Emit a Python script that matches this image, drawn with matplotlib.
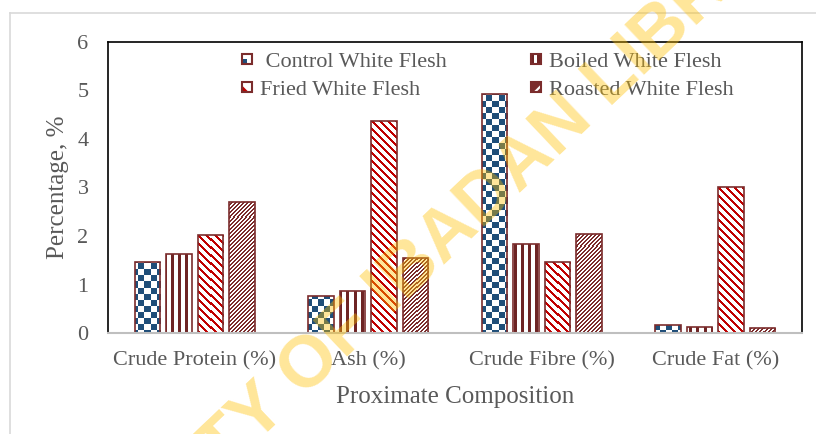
import numpy as np
import matplotlib
matplotlib.use("Agg")
import matplotlib.pyplot as plt
from matplotlib.colors import to_rgb
from matplotlib.patches import Rectangle, Polygon
from matplotlib.lines import Line2D
from matplotlib.legend_handler import HandlerBase

# Proximate composition of white flesh samples (%)
categories = ["Crude Protein (%)", "Ash (%)", "Crude Fibre (%)", "Crude Fat (%)"]
series = [" Control White Flesh", "Boiled White Flesh", "Fried White Flesh", "Roasted White Flesh"]
control = [1.47, 0.77, 4.93, 0.17]
boiled = [1.62, 0.86, 1.83, 0.12]
fried = [2.02, 4.37, 1.46, 3.00]
roasted = [2.71, 1.54, 2.05, 0.10]
values = [control, boiled, fried, roasted]
yticks = [0, 1, 2, 3, 4, 5, 6]

plt.rcParams["font.family"] = ["Liberation Serif", "DejaVu Serif"]
TEXT = "#595959"
EDGE = "#7B2C2C"
BLUE = "#1F4E79"
RED = "#C00000"
BROWN = "#6E2424"

W_PX, H_PX = 816, 434
fig = plt.figure(figsize=(W_PX / 100, H_PX / 100), dpi=100)
ax_l, ax_r, ax_t, ax_b = 108, 802, 42, 333
ax = fig.add_axes([ax_l / W_PX, 1 - ax_b / H_PX, (ax_r - ax_l) / W_PX, (ax_b - ax_t) / H_PX])

# outer chart border (only top and left edges fall inside the image)
fig.add_artist(Line2D([10 / W_PX, 10 / W_PX], [0, 1 - 13 / H_PX], color="#D9D9D9", lw=1.2))
fig.add_artist(Line2D([10 / W_PX, 1], [1 - 13 / H_PX, 1 - 13 / H_PX], color="#D9D9D9", lw=1.2))


def pattern(kind, h, w):
    i, j = np.mgrid[0:h, 0:w]
    if kind == "checker":
        mask = ((i // 6 + j // 6) % 2) == 0
        col = BLUE
    elif kind == "vertical":
        mask = (j % 7) < 3
        col = BROWN
    elif kind == "down":
        mask = ((j - i) % 8) < 3
        col = RED
    else:
        mask = ((j + i) % 4) < 2
        col = EDGE
    img = np.ones((h, w, 3))
    img[mask] = to_rgb(col)
    return img


kinds = ["checker", "vertical", "down", "up"]
xlim = (-0.5, 3.5)
ylim = (0, 6)
img_w, img_h = ax_r - ax_l, ax_b - ax_t

x = np.arange(len(categories))
step = 0.1816
width = 0.147
for k, (vals, kind) in enumerate(zip(values, kinds)):
    offs = (k - 1.5) * step
    bars = ax.bar(x + offs, vals, width, facecolor="none", edgecolor=EDGE,
                  linewidth=1.2, zorder=3)
    img = pattern(kind, img_h, img_w)
    for rect in bars:
        im = ax.imshow(img, extent=(xlim[0], xlim[1], ylim[0], ylim[1]), aspect="auto",
                       interpolation="nearest", zorder=2)
        im.set_clip_path(rect)

ax.set_xlim(*xlim)
ax.set_ylim(*ylim)
ax.set_xticks(x)
ax.set_xticklabels(categories)
ax.set_yticks(yticks)
ax.tick_params(length=0, labelsize=16, labelcolor=TEXT)
ax.tick_params(axis="x", pad=13)
ax.tick_params(axis="y", pad=14)
ax.set_xlabel("Proximate Composition", fontsize=18, color=TEXT, labelpad=11)
ax.set_ylabel("Percentage, %", fontsize=18, color=TEXT, labelpad=6)

for side in ["left", "top", "right"]:
    ax.spines[side].set_color("black")
    ax.spines[side].set_linewidth(1.2)
ax.spines["bottom"].set_color("#BFBFBF")
ax.spines["bottom"].set_linewidth(1.5)
ax.spines["bottom"].set_zorder(4)


class SwatchHandler(HandlerBase):
    def __init__(self, kind):
        super().__init__()
        self.kind = kind

    def create_artists(self, legend, orig_handle, xdescent, ydescent, width, height,
                       fontsize, trans):
        s = min(width, height)
        x0, y0 = -xdescent, -ydescent + (height - s) / 2
        arts = []
        if self.kind == "checker":
            arts.append(Rectangle((x0, y0), s, s, fc="white", ec="none"))
            arts.append(Rectangle((x0, y0), s * 0.5, s * 0.5, fc=BLUE, ec="none"))
        elif self.kind == "vertical":
            arts.append(Rectangle((x0, y0), s, s, fc=BROWN, ec="none"))
            arts.append(Rectangle((x0 + s * 0.35, y0), s * 0.3, s, fc="white", ec="none"))
        elif self.kind == "down":
            arts.append(Rectangle((x0, y0), s, s, fc="white", ec="none"))
            arts.append(Polygon([(x0, y0), (x0 + s * 0.7, y0), (x0, y0 + s * 0.7)],
                                closed=True, fc=RED, ec="none"))
        else:
            arts.append(Rectangle((x0, y0), s, s, fc=EDGE, ec="none"))
            arts.append(Polygon([(x0 + s * 0.2, y0), (x0 + s * 0.5, y0), (x0 + s, y0 + s * 0.5),
                                 (x0 + s, y0 + s * 0.8)], closed=True, fc="white", ec="none"))
        arts.append(Rectangle((x0, y0), s, s, fc="none", ec=EDGE, lw=1.5))
        for a in arts:
            a.set_transform(trans)
        return arts


handles = [Rectangle((0, 0), 1, 1) for _ in series]
order = [0, 2, 1, 3]
leg = ax.legend([handles[i] for i in order], [series[i] for i in order],
                handler_map={handles[i]: SwatchHandler(kinds[i]) for i in range(4)},
                ncol=2, frameon=False, fontsize=16, labelcolor=TEXT,
                loc="upper left", bbox_to_anchor=(242 / W_PX, 1 - 53 / H_PX),
                bbox_transform=fig.transFigure, borderaxespad=0, borderpad=0,
                handlelength=0.45, handleheight=0.45, handletextpad=0.35,
                columnspacing=3.8, labelspacing=0.42)
leg.set_zorder(5)

# library watermark across the chart
fig.text(394 / W_PX, 1 - 285 / H_PX, "UNIVERSITY OF IBADAN LIBRARY", rotation=43.5,
         rotation_mode="anchor", ha="center", va="center", fontsize=52,
         fontweight="bold", family="Liberation Sans", color="#FFC000", alpha=0.4,
         zorder=10)

fig.savefig("out.png", dpi=100)
